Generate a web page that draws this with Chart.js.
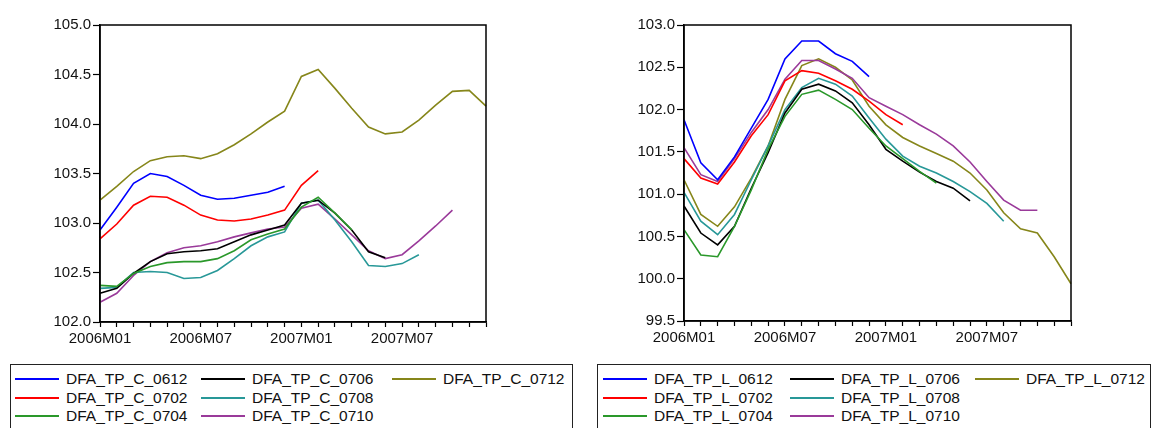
<!DOCTYPE html>
<html>
<head>
<meta charset="utf-8">
<script src="https://cdn.jsdelivr.net/npm/chart.js@4/dist/chart.umd.min.js"></script>
<style>
  body { margin: 0; background: #fff; width: 1156px; height: 428px; overflow: hidden; position: relative; font-family: "Liberation Sans", Arial, sans-serif; }
  canvas { position: absolute; top: 0; }
  .legend { position: absolute; top: 364px; height: 80px; border: 1.5px solid #222; box-sizing: border-box; }
  .item { position: absolute; font-size: 15.5px; color: #111; white-space: nowrap; line-height: 18px; }
  .item span.ln { position: absolute; left: 0; top: 8px; width: 44px; height: 2px; }
  .item span.tx { position: absolute; left: 51px; top: 0; }
</style>
</head>
<body>
<canvas id="chartC" width="500" height="360" style="left:0px"></canvas>
<canvas id="chartL" width="500" height="360" style="left:584px"></canvas>
<div class="legend" id="legendC" style="left:10px; width:563px"></div>
<div class="legend" id="legendL" style="left:597px; width:554px"></div>
<script>
var months = ['2006M01','2006M02','2006M03','2006M04','2006M05','2006M06','2006M07','2006M08','2006M09','2006M10','2006M11','2006M12',
              '2007M01','2007M02','2007M03','2007M04','2007M05','2007M06','2007M07','2007M08','2007M09','2007M10','2007M11','2007M12'];

var cNames = ['DFA_TP_C_0612','DFA_TP_C_0702','DFA_TP_C_0704','DFA_TP_C_0706','DFA_TP_C_0708','DFA_TP_C_0710','DFA_TP_C_0712'];
var lNames = ['DFA_TP_L_0612','DFA_TP_L_0702','DFA_TP_L_0704','DFA_TP_L_0706','DFA_TP_L_0708','DFA_TP_L_0710','DFA_TP_L_0712'];

var COLORS = ['#0000ff', '#ff0000', '#2a982a', '#000000', '#289898', '#9a3a9a', '#86861a'];

// left panel (C)
var c0612 = [102.93,103.16,103.40,103.50,103.47,103.38,103.28,103.24,103.25,103.28,103.31,103.37];
var c0702 = [102.84,102.99,103.18,103.27,103.26,103.18,103.08,103.03,103.02,103.04,103.08,103.13,103.38,103.53];
var c0704 = [102.37,102.36,102.49,102.56,102.60,102.61,102.61,102.64,102.72,102.83,102.89,102.94,103.16,103.26,103.10,102.93];
var c0706 = [102.29,102.34,102.49,102.61,102.69,102.71,102.72,102.74,102.81,102.88,102.93,102.98,103.20,103.23,103.10,102.93,102.71,102.65];
var c0708 = [102.34,102.35,102.50,102.51,102.50,102.44,102.45,102.52,102.64,102.77,102.86,102.91,103.20,103.23,103.03,102.81,102.57,102.56,102.59,102.68];
var c0710 = [102.20,102.29,102.47,102.61,102.70,102.75,102.77,102.81,102.86,102.90,102.94,102.96,103.15,103.19,103.04,102.88,102.72,102.64,102.68,102.82,102.97,103.13];
var c0712 = [103.23,103.37,103.52,103.63,103.67,103.68,103.65,103.70,103.79,103.90,104.02,104.13,104.48,104.55,104.36,104.16,103.97,103.90,103.92,104.04,104.19,104.33,104.34,104.18];

// right panel (L)
var l0612 = [101.88,101.37,101.17,101.44,101.78,102.12,102.60,102.81,102.81,102.66,102.57,102.39];
var l0702 = [101.42,101.19,101.12,101.38,101.69,101.94,102.34,102.46,102.43,102.34,102.24,102.10,101.94,101.82];
var l0704 = [100.58,100.28,100.26,100.62,101.05,101.53,101.92,102.18,102.23,102.12,102.00,101.78,101.57,101.42,101.27,101.13];
var l0706 = [100.86,100.54,100.40,100.62,101.07,101.49,101.96,102.24,102.30,102.22,102.08,101.82,101.53,101.39,101.26,101.15,101.07,100.92];
var l0708 = [101.02,100.68,100.52,100.76,101.17,101.57,102.00,102.26,102.37,102.30,102.16,101.90,101.65,101.45,101.33,101.25,101.15,101.03,100.89,100.68];
var l0710 = [101.55,101.23,101.15,101.42,101.73,102.00,102.36,102.58,102.58,102.48,102.37,102.14,102.04,101.94,101.82,101.71,101.57,101.38,101.15,100.93,100.81,100.81];
var l0712 = [101.17,100.76,100.62,100.85,101.19,101.57,102.12,102.52,102.60,102.50,102.35,102.04,101.82,101.67,101.57,101.48,101.39,101.25,101.05,100.78,100.59,100.54,100.26,99.94];

Chart.defaults.font.family = '"Liberation Sans", Arial, sans-serif';
Chart.defaults.font.size = 15;
Chart.defaults.color = '#111';

var frame = {
    id: 'frame',
    afterDraw: function(chart) {
        var a = chart.chartArea;
        var ctx = chart.ctx;
        ctx.save();
        ctx.strokeStyle = '#000';
        ctx.lineWidth = 1.5;
        ctx.strokeRect(a.left, a.top, a.right - a.left, a.bottom - a.top);
        ctx.restore();
    }
};

function makeChart(id, names, series, yMin, yMax, padRight, xHeight) {
    var datasets = [];
    for (let i = 0; i < series.length; i++) {
        datasets.push({
            label: names[i],
            data: series[i],
            borderColor: COLORS[i],
            backgroundColor: COLORS[i],
            borderWidth: 1.6,
            pointRadius: 0,
            tension: 0,
            fill: false
        });
    }
    var ctx = document.getElementById(id).getContext('2d');
    return new Chart(ctx, {
        type: 'line',
        data: { labels: months, datasets: datasets },
        plugins: [frame],
        options: {
            responsive: false,
            animation: false,
            layout: { padding: { top: 25, left: 0, right: padRight, bottom: 0 } },
            plugins: { legend: { display: false }, tooltip: { enabled: false } },
            scales: {
                x: {
                    offset: false,
                    grid: { display: true, drawOnChartArea: false, tickLength: 5, tickColor: '#000', tickWidth: 1.2 },
                    border: { color: '#000', width: 1.5 },
                    ticks: {
                        autoSkip: false, maxRotation: 0, minRotation: 0, padding: 3,
                        callback: function(v, i) { return i % 6 === 0 ? months[i] : ''; }
                    },
                    afterFit: function(s) { s.height = xHeight; }
                },
                y: {
                    min: yMin, max: yMax,
                    grid: { display: true, drawOnChartArea: false, tickLength: 7, tickColor: '#000', tickWidth: 1.2 },
                    border: { color: '#000', width: 1.5 },
                    ticks: { stepSize: 0.5, padding: 2, callback: function(v) { return v.toFixed(1); } },
                    afterFit: function(s) { s.width = 100; }
                }
            }
        }
    });
}

makeChart('chartC', cNames, [c0612, c0702, c0704, c0706, c0708, c0710, c0712], 102, 105, 14, 38);
makeChart('chartL', lNames, [l0612, l0702, l0704, l0706, l0708, l0710, l0712], 99.5, 103, 13, 39);

function buildLegend(id, names, colX) {
    var box = document.getElementById(id);
    for (let i = 0; i < names.length; i++) {
        var col = Math.floor(i / 3), row = i % 3;
        var d = document.createElement('div');
        d.className = 'item';
        d.style.left = colX[col] + 'px';
        d.style.top = (5 + row * 18.7) + 'px';
        d.innerHTML = '<span class="ln" style="background:' + COLORS[i] + '"></span><span class="tx">' + names[i] + '</span>';
        box.appendChild(d);
    }
}
buildLegend('legendC', cNames, [4, 190, 381]);
buildLegend('legendL', lNames, [5, 192, 377]);
</script>
</body>
</html>
